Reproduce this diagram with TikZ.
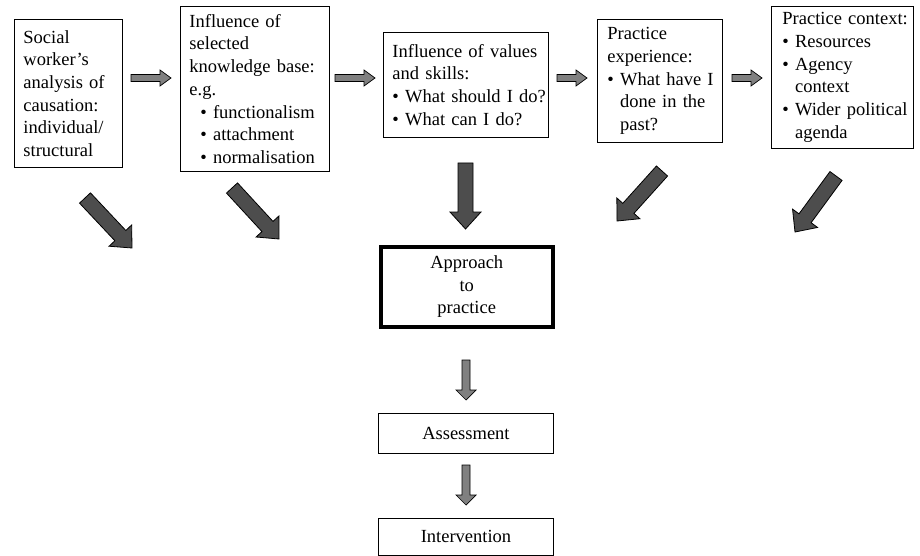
\documentclass[tikz,border=0pt]{standalone}
\usepackage{fontspec}
\setmainfont{Liberation Serif}
\usetikzlibrary{calc}
\definecolor{darkarr}{RGB}{77,77,77}
\definecolor{midarr}{RGB}{128,128,128}
\newcommand\Lx[1]{\mbox{#1}}
\newcommand\Bx[1]{\mbox{\textbullet\ #1}}
\newcommand\Ix[1]{\mbox{\phantom{\textbullet\ }#1}}
% #1 style, #2 tail, #3 tip, #4 shaft half width, #5 head half width, #6 head length
\newcommand\blockarr[6]{%
  \coordinate (bah) at ($(#3)!#6!(#2)$);
  \draw[#1] ($(#2)!#4!90:(#3)$) -- ($(bah)!#4!90:(#3)$) -- ($(bah)!#5!90:(#3)$) -- (#3)
    -- ($(bah)!#5!-90:(#3)$) -- ($(bah)!#4!-90:(#3)$) -- ($(#2)!#4!-90:(#3)$) -- cycle;}
\hbadness=10000 \hfuzz=100pt
\begin{document}
\begin{tikzpicture}[x=1pt, y=-1pt,
  font=\fontsize{18.5}{22.7}\selectfont,
  box/.style={draw, line width=0.9pt, inner xsep=9pt, inner ysep=0pt, anchor=north west, align=left},
  cbox/.style={draw, line width=0.9pt, inner sep=0pt, anchor=north west, align=center},
  bigarr/.style={fill=darkarr, draw=black, line width=0.8pt, line join=miter},
  smallarr/.style={fill=midarr, draw=black, line width=0.7pt, line join=miter}]
\useasboundingbox (0,0) rectangle (920,556);

\node[box, minimum width=108pt, minimum height=148pt, text width=90pt] (b1) at (14,19)
  {\Lx{Social}\\\Lx{worker’s}\\\Lx{analysis of}\\\Lx{causation:}\\\Lx{individual/}\\\Lx{structural}};
\node[box, minimum width=149pt, minimum height=165pt, text width=131pt] (b2) at (180,6)
  {\Lx{Influence of}\\\Lx{selected}\\\Lx{knowledge base:}\\\Lx{e.g.}\\
   \Lx{\hspace*{11pt}\textbullet\ functionalism}\\
   \Lx{\hspace*{11pt}\textbullet\ attachment}\\
   \Lx{\hspace*{11pt}\textbullet\ normalisation}};
\node[box, minimum width=165pt, minimum height=105pt, text width=147pt] (b3) at (383,32)
  {\Lx{Influence of values}\\\Lx{and skills:}\\\Bx{What should I do?}\\\Bx{What can I do?}};
\node[box, inner xsep=10pt, minimum width=125pt, minimum height=123pt, text width=105pt] (b4) at (597,19)
  {\Lx{Practice}\\\Lx{experience:}\\\Bx{What have I}\\\Ix{done in the}\\\Ix{past?}};
\node[box, inner xsep=11pt, minimum width=142pt, minimum height=142pt, text width=120pt] (b5) at (771,6)
  {\Lx{Practice context:}\\\Bx{Resources}\\\Bx{Agency}\\\Ix{context}\\\Bx{Wider political}\\\Ix{agenda}};

\node[cbox, line width=3.5pt, minimum width=172pt, minimum height=80pt] (ap) at (379,245)
  {Approach\\to\\practice};
\node[cbox, minimum width=175pt, minimum height=40pt] (as) at (378,413) {Assessment};
\node[cbox, minimum width=175pt, minimum height=37pt] (iv) at (378,518) {Intervention};

% small horizontal arrows
\coordinate (h1a) at (131,78);  \coordinate (h1b) at (171,78);
\coordinate (h2a) at (335,78);  \coordinate (h2b) at (375,78);
\coordinate (h3a) at (557,78);  \coordinate (h3b) at (587,78);
\coordinate (h4a) at (732,78);  \coordinate (h4b) at (762,78);
\blockarr{smallarr}{h1a}{h1b}{3.5pt}{8pt}{11pt}
\blockarr{smallarr}{h2a}{h2b}{3.5pt}{8pt}{11pt}
\blockarr{smallarr}{h3a}{h3b}{3.5pt}{8pt}{11pt}
\blockarr{smallarr}{h4a}{h4b}{3.5pt}{8pt}{11pt}

% small vertical arrows
\coordinate (v1a) at (466,360); \coordinate (v1b) at (466,400);
\coordinate (v2a) at (466,465); \coordinate (v2b) at (466,505);
\blockarr{smallarr}{v1a}{v1b}{4pt}{10pt}{10pt}
\blockarr{smallarr}{v2a}{v2b}{4pt}{10pt}{10pt}

% big arrows
\coordinate (d1a) at (85,198);  \coordinate (d1b) at (132,248);
\coordinate (d2a) at (232,188); \coordinate (d2b) at (279,239);
\coordinate (d3a) at (465.5,163); \coordinate (d3b) at (465.5,229);
\coordinate (d4a) at (662,171); \coordinate (d4b) at (617,221);
\coordinate (d5a) at (836,176); \coordinate (d5b) at (795,232);
\blockarr{bigarr}{d1a}{d1b}{7.5pt}{15.5pt}{17pt}
\blockarr{bigarr}{d2a}{d2b}{7.5pt}{15.5pt}{17pt}
\blockarr{bigarr}{d3a}{d3b}{7.5pt}{15.5pt}{17pt}
\blockarr{bigarr}{d4a}{d4b}{7.5pt}{15.5pt}{17pt}
\blockarr{bigarr}{d5a}{d5b}{7.5pt}{15.5pt}{17pt}
\end{tikzpicture}
\end{document}
